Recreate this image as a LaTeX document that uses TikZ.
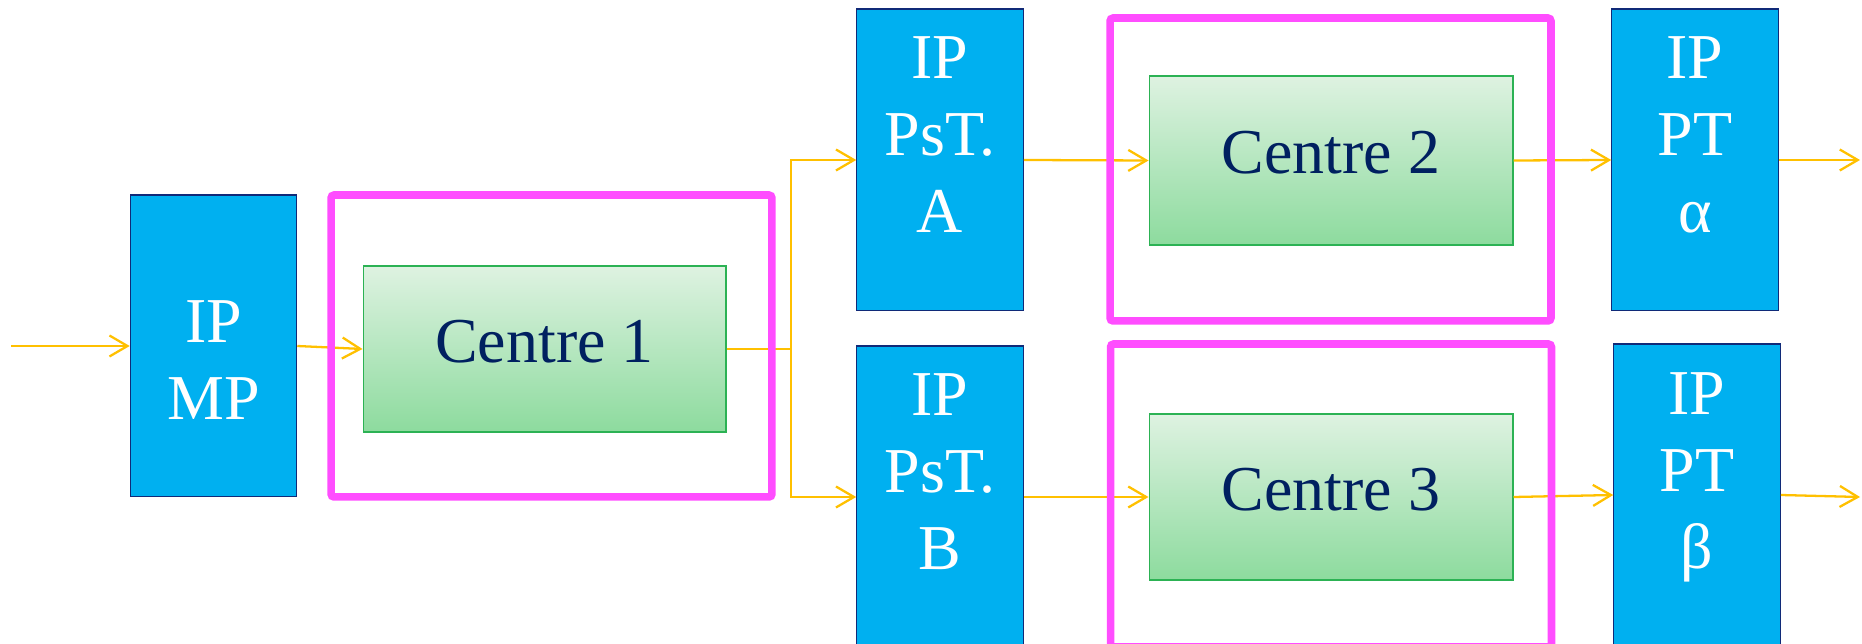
\documentclass[tikz,border=0pt]{standalone}
\usepackage{fontspec}
\setmainfont{Liberation Serif}
\usetikzlibrary{arrows.meta,calc}
\definecolor{ipblue}{RGB}{0,176,240}
\definecolor{ipedge}{RGB}{16,42,120}
\definecolor{navy}{RGB}{0,32,96}
\definecolor{framepink}{RGB}{255,77,255}
\definecolor{linkgold}{RGB}{255,192,0}
\definecolor{greentop}{RGB}{222,242,225}
\definecolor{greenbot}{RGB}{141,219,158}
\definecolor{greenedge}{RGB}{44,178,84}

\begin{document}
\begin{tikzpicture}[x=0.02cm,y=-0.02cm,
    ip/.style={draw=ipedge,line width=0.6pt,fill=ipblue,minimum width=3.33cm,
      minimum height=6.04cm,inner sep=0pt},
    iptxt/.style={text=white,align=center,font=\fontsize{36.4}{43.8}\selectfont},
    centre/.style={draw=greenedge,line width=0.6pt,top color=greentop,
      bottom color=greenbot,minimum width=7.28cm,minimum height=3.32cm,
      text=navy,text depth=0.32cm,font=\fontsize{36.4}{43.8}\selectfont},
    frame/.style={draw=framepink,line width=4.3pt,rounded corners=0.06cm,
      minimum width=8.82cm,minimum height=6.06cm},
    link/.style={draw=linkgold,line width=1.3pt},
    arr/.style={link,-{Straight Barb[length=0.36cm,width=0.42cm]}}]

  \useasboundingbox (0,0) rectangle (1862,644);

  \node[ip] (mp)   at (213.5,346) {};
  \node[ip] (psta) at (940,160) {};
  \node[ip] (pstb) at (940,497) {};
  \node[ip] (pta)  at (1695,160) {};
  \node[ip] (ptb)  at (1697,495) {};

  \node[iptxt] (mptxt)   at ($(mp)+(0,14)$)    {IP\\MP};
  \node[iptxt] (pstatxt) at ($(psta)+(0,-25)$) {IP\\PsT.\\A};
  \node[iptxt] (pstbtxt) at ($(pstb)+(0,-25)$) {IP\\PsT.\\B};
  \node[iptxt] (ptatxt)  at ($(pta)+(0,-25)$)  {IP\\PT\\α};
  \node[iptxt] (ptbtxt)  at ($(ptb)+(0,-18)$)  {IP\\PT\\β};

  \node[centre,minimum width=7.26cm] (c1) at (544.5,349) {Centre 1};
  \node[centre,minimum height=3.38cm] (c2) at (1331,160.5) {Centre 2};
  \node[centre] (c3) at (1331,497) {Centre 3};

  \coordinate (in)    at (11,346);
  \coordinate (split) at (791,349);
  \coordinate (outa)  at (1860,160);
  \coordinate (outb)  at (1860,497);

  \draw[arr] (in) -- (mp.west);
  \draw[arr] (mp.east) -- (c1.west);
  \draw[link] (c1.east) -- (split);
  \draw[arr] (split) |- (psta.west);
  \draw[arr] (split) |- (pstb.west);
  \draw[arr] (psta.east) -- (c2.west);
  \draw[arr] (pstb.east) -- (c3.west);
  \draw[arr] (c2.east) -- (pta.west);
  \draw[arr] (c3.east) -- (ptb.west);
  \draw[arr] (pta.east) -- (outa);
  \draw[arr] (ptb.east) -- (outb);

  \node[frame,minimum height=6.04cm] (f1) at (551.5,346) {};
  \node[frame] (f2) at (1330.5,169.5) {};
  \node[frame] (f3) at (1331,495.5) {};

\end{tikzpicture}
\end{document}
